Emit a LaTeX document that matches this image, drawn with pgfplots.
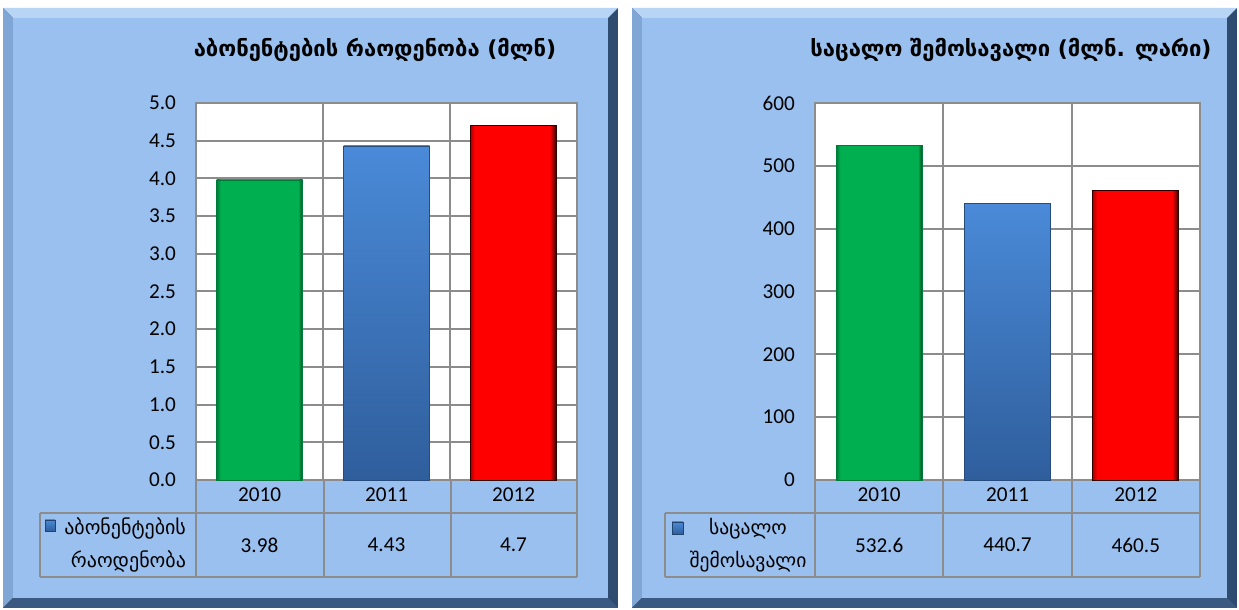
\documentclass[border=0pt]{standalone}
\usepackage{pgfplots}
\pgfplotsset{compat=1.18}
\usepackage{fontspec}
\setmainfont{Carlito}
\newfontfamily\geo{DejaVu Sans}
\definecolor{panel}{HTML}{99C0EF}
\definecolor{bevT}{HTML}{B9D5F6}
\definecolor{bevL}{HTML}{7FA6D4}
\definecolor{bevR}{HTML}{2F4C70}
\definecolor{bevB}{HTML}{3A5A82}
\definecolor{gridc}{HTML}{8C8C8C}
\definecolor{gM}{HTML}{00B050}
\definecolor{gD}{HTML}{007A38}
\definecolor{gDD}{HTML}{004A20}
\definecolor{rM}{HTML}{FF0000}
\definecolor{rD}{HTML}{B00000}
\definecolor{rDD}{HTML}{300000}
\definecolor{bT}{HTML}{4A8AD8}
\definecolor{bB}{HTML}{2F5E9C}
\pgfdeclarehorizontalshading{greenbevel}{100bp}{color(0bp)=(gD); color(25bp)=(gD); color(27.5bp)=(gM); color(72.5bp)=(gM); color(75bp)=(gDD); color(100bp)=(gDD)}
\pgfdeclarehorizontalshading{redbevel}{100bp}{color(0bp)=(rD); color(25bp)=(rD); color(27.5bp)=(rM); color(71bp)=(rM); color(75bp)=(rDD); color(100bp)=(rDD)}
\pgfplotsset{
  mybar/.style={
    scale only axis, anchor=south west,
    height=188.5pt,
    xmin=-0.5, xmax=2.5, ymin=0,
    axis background/.style={fill=white},
    axis line style={draw=gridc, line width=1pt},
    xtick={0,1,2}, xticklabels={2010,2011,2012},
    minor xtick={0.5,1.5}, xminorgrids, ymajorgrids,
    grid style={draw=gridc, line width=1pt},
    minor grid style={draw=gridc, line width=1pt},
    major tick length=0pt, minor tick length=0pt,
    ybar, bar width=43pt, bar shift=0pt,
    clip=false,
    tick label style={font=\fontsize{10.6}{12}\selectfont, text=black},
    xticklabel style={anchor=center, yshift=-7.5pt},
    yticklabel style={xshift=-6.5pt},
    /pgf/number format/assume math mode=true,
  },
  gbar/.style={draw=gD, line width=0.4pt, shading=greenbevel},
  bbar/.style={draw=bB!80!black, line width=0.4pt, top color=bT, bottom color=bB},
  rbar/.style={draw=rDD, line width=0.4pt, shading=redbevel},
}
\newcommand{\panel}[4]{% x1 y1 x2 y2 in px (y downward)
  \fill[bevR] (#1,#2) rectangle (#3,#4);
  \fill[bevT] (#1,#2) -- (#3,#2) -- (#3-10,#2+10) -- (#1+10,#2+10) -- cycle;
  \fill[bevL] (#1,#2) -- (#1+10,#2+10) -- (#1+10,#4-10) -- (#1,#4) -- cycle;
  \fill[bevB] (#1,#4) -- (#1+10,#4-10) -- (#3-10,#4-10) -- (#3,#4) -- cycle;
  \fill[panel] (#1+10,#2+10) rectangle (#3-10,#4-10);
}
\begin{document}
\begin{tikzpicture}
\begin{scope}[x=0.5pt,y=-0.5pt,shift={(0pt,305pt)}]
  \panel{3}{8}{618}{608}
  \panel{632}{8}{1237}{608}
  % titles
  \node[font=\geo\bfseries\fontsize{11}{13}\selectfont] at (375,50) {აბონენტების რაოდენობა (მლნ)};
  \node[font=\geo\bfseries\fontsize{11}{13}\selectfont] at (1011,50) {საცალო შემოსავალი (მლნ. ლარი)};
  % table lines left
  \begin{scope}[draw=gridc, line width=1pt]
    \draw (196,480) -- (196,577);
    \draw (324,480) -- (324,577);
    \draw (451,480) -- (451,577);
    \draw (577,480) -- (577,577);
    \draw (40,513) -- (577,513);
    \draw (40,577) -- (577,577);
    \draw (40,513) -- (40,577);
    % right
    \draw (815,480) -- (815,577);
    \draw (943,480) -- (943,577);
    \draw (1072,480) -- (1072,577);
    \draw (1200,480) -- (1200,577);
    \draw (665,513) -- (1200,513);
    \draw (665,577) -- (1200,577);
    \draw (665,513) -- (665,577);
  \end{scope}
  % legend keys
  \shade[top color=bT, bottom color=bB, draw=bB!70!black, line width=0.3pt] (45,520) rectangle (55,531);
  \shade[top color=bT, bottom color=bB, draw=bB!70!black, line width=0.3pt] (672,522) rectangle (683,534);
  \node[anchor=east, align=right, font=\geo\fontsize{10}{16.5}\selectfont] at (193,545) {აბონენტების\\რაოდენობა};
  \node[align=center, font=\geo\fontsize{9.8}{16.5}\selectfont] at (748,545) {საცალო\\შემოსავალი};
\end{scope}

\begin{axis}[mybar, at={(98pt,65pt)}, width=190.5pt,
  ymax=5, ytick={0,0.5,...,5},
  yticklabel style={/pgf/number format/.cd, fixed, fixed zerofill, precision=1}]
  \addplot[gbar] coordinates {(0,3.98)};
  \addplot[bbar] coordinates {(1,4.43)};
  \addplot[rbar] coordinates {(2,4.7)};
  \node[font=\fontsize{10.6}{12}\selectfont] at (axis cs:0,0) [yshift=-32.5pt] {3.98};
  \node[font=\fontsize{10.6}{12}\selectfont] at (axis cs:1,0) [yshift=-32.5pt] {4.43};
  \node[font=\fontsize{10.6}{12}\selectfont] at (axis cs:2,0) [yshift=-32.5pt] {4.7};
\end{axis}

\begin{axis}[mybar, at={(407.5pt,65pt)}, width=192.5pt,
  ymax=600, ytick={0,100,...,600}]
  \addplot[gbar] coordinates {(0,532.6)};
  \addplot[bbar] coordinates {(1,440.7)};
  \addplot[rbar] coordinates {(2,460.5)};
  \node[font=\fontsize{10.6}{12}\selectfont] at (axis cs:0,0) [yshift=-32.5pt] {532.6};
  \node[font=\fontsize{10.6}{12}\selectfont] at (axis cs:1,0) [yshift=-32.5pt] {440.7};
  \node[font=\fontsize{10.6}{12}\selectfont] at (axis cs:2,0) [yshift=-32.5pt] {460.5};
\end{axis}
\pgfresetboundingbox
\path[use as bounding box] (0pt,0pt) rectangle (619.5pt,305pt);
\end{tikzpicture}
\end{document}
